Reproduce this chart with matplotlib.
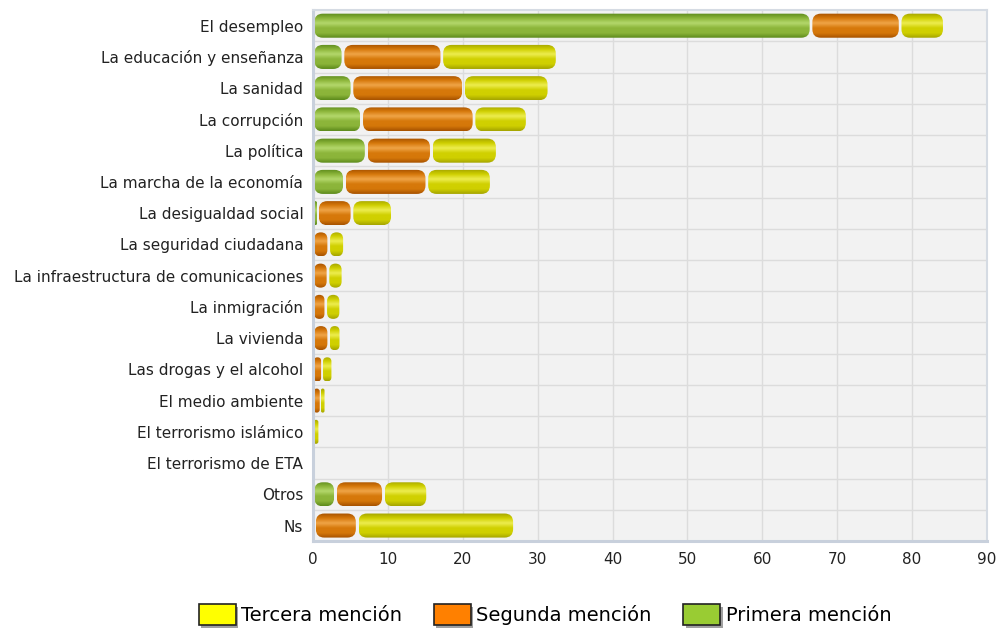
import numpy as np
import matplotlib

matplotlib.use("Agg")
import matplotlib.pyplot as plt  # noqa: E402
import matplotlib.patheffects as pe  # noqa: E402
from matplotlib.patches import FancyBboxPatch, Rectangle  # noqa: E402
from matplotlib.colors import LinearSegmentedColormap  # noqa: E402

# -------------------------------
# Data (percent of respondents)
# -------------------------------
categories = [
    "El desempleo",
    "La educación y enseñanza",
    "La sanidad",
    "La corrupción",
    "La política",
    "La marcha de la economía",
    "La desigualdad social",
    "La seguridad ciudadana",
    "La infraestructura de comunicaciones",
    "La inmigración",
    "La vivienda",
    "Las drogas y el alcohol",
    "El medio ambiente",
    "El terrorismo islámico",
    "El terrorismo de ETA",
    "Otros",
    "Ns",
]
primera = [66.5, 4.0, 5.2, 6.5, 7.1, 4.2, 0.6, 0, 0, 0, 0, 0, 0, 0, 0, 3.0, 0.2]
segunda = [11.9, 13.2, 14.9, 15.0, 8.7, 11.0, 4.6, 2.1, 2.0, 1.7, 2.1, 1.2, 1.0, 0, 0, 6.4, 5.7]
tercera = [5.9, 15.4, 11.4, 7.1, 8.8, 8.6, 5.4, 2.1, 2.0, 2.0, 1.6, 1.4, 0.6, 0.8, 0, 5.9, 21.0]

series = [
    ("Primera mención", primera, ("#5c8a1c", "#8cb53a", "#b4d86c"), "#99cc33"),
    ("Segunda mención", segunda, ("#a65200", "#d6780a", "#f0a548"), "#ff8000"),
    ("Tercera mención", tercera, ("#a4a400", "#d0d000", "#eded50"), "#ffff00"),
]

plt.rcParams["font.family"] = ["DejaVu Sans"]

fig = plt.figure(figsize=(10, 6.3), dpi=100)
ax = fig.add_axes([0.313, 0.141, 0.674, 0.843])
ax.set_facecolor("#f2f2f2")

y = np.arange(len(categories))
bar_h = 0.77
ax.set_xlim(0, 90)
ax.set_ylim(len(categories) - 0.5, -0.5)

# grid: vertical every 10, horizontal at category boundaries
for gx in range(10, 90, 10):
    ax.axvline(gx, color="#dcdcdc", lw=1, zorder=0)
for gy in np.arange(0.5, len(categories) - 0.5, 1):
    ax.axhline(gy, color="#dcdcdc", lw=1, zorder=0)

# pixel scale of one data unit, for round corners
fig.canvas.draw()
bb = ax.get_window_extent()
px_x = bb.width / 90.0
px_y = bb.height / len(categories)
aspect = px_x / px_y
radius_px = 8.5

left = np.zeros(len(categories))
for name, vals, shades, _ in series:
    vals = np.asarray(vals, dtype=float)
    bars = ax.barh(y, vals, left=left, height=bar_h, color="none", edgecolor="none")
    cmap = LinearSegmentedColormap.from_list(
        name, [shades[0], shades[1], shades[2], shades[1], shades[1], shades[0]]
    )
    grad = np.linspace(0, 1, 64).reshape(-1, 1)
    for rect in bars:
        w = rect.get_width()
        if w <= 0:
            continue
        # small gap between segments, smaller for thin ones
        gap = min(0.18, w * 0.1)
        x0 = rect.get_x() + gap
        w = max(w - 2 * gap, 0.15)
        y0 = rect.get_y()
        h = rect.get_height()
        r = min(radius_px / px_x, w / 2)
        patch = FancyBboxPatch(
            (x0, y0), w, h,
            boxstyle=f"round,pad=0,rounding_size={r}",
            mutation_aspect=aspect,
            facecolor="none", edgecolor="none", zorder=2,
        )
        ax.add_patch(patch)
        im = ax.imshow(
            grad, cmap=cmap, aspect="auto", interpolation="bicubic",
            extent=(x0, x0 + w, y0 + h, y0), zorder=2,
        )
        im.set_clip_path(patch)
    left = left + vals

ax.set_xlim(0, 90)
ax.set_ylim(len(categories) - 0.5, -0.5)
ax.set_xticks(range(0, 91, 10))
ax.set_yticks(y)
ax.set_yticklabels(categories)
ax.tick_params(axis="both", length=0, labelsize=11, colors="#222222")
ax.tick_params(axis="x", pad=8)
ax.tick_params(axis="y", pad=7)
for side in ["top", "right"]:
    ax.spines[side].set_color("#d5dbe3")
    ax.spines[side].set_linewidth(1.5)
for side in ["left", "bottom"]:
    ax.spines[side].set_color("#c8d0dc")
    ax.spines[side].set_linewidth(2.2)

# legend (reversed order, boxed squares with shadow)
handles = []
labels = []
for name, _, _, lc in reversed(series):
    handles.append(Rectangle((0, 0), 1, 1, facecolor=lc, edgecolor="#222222", lw=1.2))
    labels.append(name)
leg = fig.legend(
    handles, labels, loc="center", bbox_to_anchor=(0.545, 0.024), ncol=3,
    frameon=False, fontsize=14, handlelength=1.9, handleheight=1.3,
    handletextpad=0.3, columnspacing=1.6,
)
for p in leg.get_patches():
    p.set_path_effects([
        pe.SimplePatchShadow(offset=(2, -2), shadow_rgbFace="#888888", alpha=0.8),
        pe.Normal(),
    ])

fig.savefig("out.png", dpi=100)
